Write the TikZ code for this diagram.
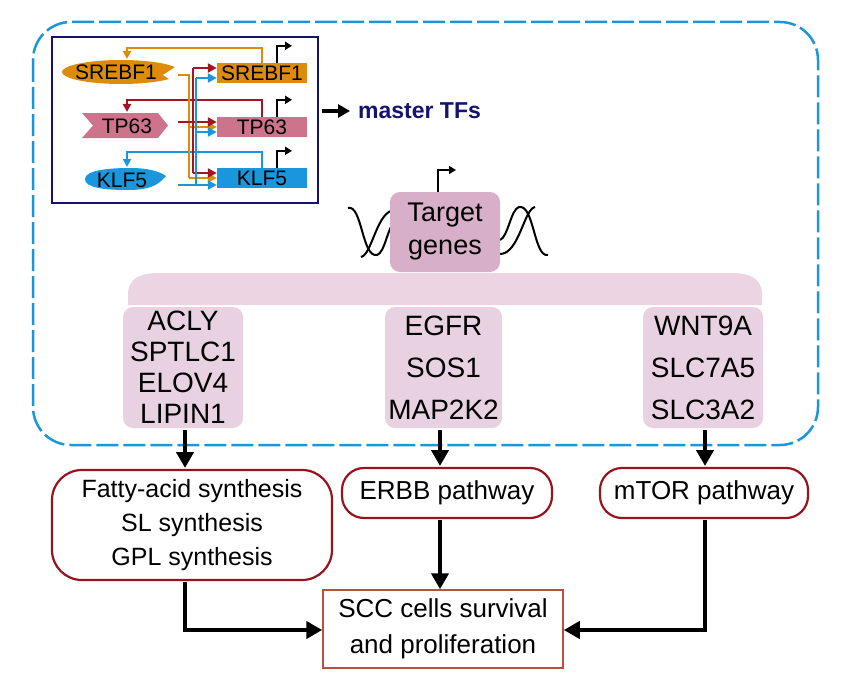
\documentclass[tikz,border=0pt]{standalone}
\usepackage{fontspec}
\setmainfont{Liberation Sans}
\usetikzlibrary{arrows.meta}
\definecolor{dblue}{RGB}{25,150,220}
\definecolor{navy}{RGB}{20,20,110}
\definecolor{orn}{RGB}{220,140,10}
\definecolor{drd}{RGB}{165,20,35}
\definecolor{pnk}{RGB}{205,115,140}
\definecolor{tgt}{RGB}{215,175,200}
\definecolor{gbox}{RGB}{232,210,225}
\definecolor{bar}{RGB}{236,212,226}
\definecolor{pbord}{RGB}{150,20,30}
\definecolor{sbord}{RGB}{185,80,60}
\tikzset{
 big/.style={line width=4pt,-{Triangle[length=16pt,width=17pt]}},
 thin/.style={line width=2.2pt,-{Triangle[length=9pt,width=9pt]}},
 fb/.style={line width=2.2pt,-{Triangle[length=8pt,width=8pt]}},
 prom/.style={line width=2pt,-{Triangle[length=7pt,width=8pt]}},
 gene/.style={fill=gbox,rounded corners=10pt,inner sep=0pt,align=center,font=\fontsize{28}{31}\selectfont},
 path/.style={draw=pbord,line width=2.2pt,align=center,font=\fontsize{25}{34}\selectfont,inner sep=0pt},
 tx/.style={font=\fontsize{21}{21}\selectfont,inner sep=0pt}
}
\begin{document}
\begin{tikzpicture}[x=1pt,y=-1pt]
\useasboundingbox (0,0) rectangle (850,690);
% outer dashed border
\draw[dblue,line width=2.5pt,dash pattern=on 22pt off 5pt,rounded corners=38pt] (33,22) rectangle (818,445);
% inset box
\node[draw=navy,line width=2.5pt,minimum width=266pt,minimum height=166pt,inner sep=0pt] (inset) at (185,120) {};
% master TFs
\node[font=\bfseries\fontsize{23}{23}\selectfont,text=navy,anchor=west,inner sep=0pt] (mtf) at (358,111) {master TFs};
\draw[line width=3pt,-{Triangle[length=12pt,width=13pt]}] (inset.east |- mtf) ++(3,0) coordinate (mstart) -- ([xshift=-8pt]mtf.west);
% protein shapes
\fill[orn] (121,72) ellipse (59 and 12);
\fill[white] (163,75) -- (183,62) -- (183,88) -- cycle;
\node[tx] (sp) at (116,72) {SREBF1};
\fill[pnk] (82,113) -- (158,113) -- (168,125.5) -- (158,138) -- (82,138) -- (93,125.5) -- cycle;
\node[tx] (tp) at (127,126) {TP63};
\fill[dblue] (85,179) .. controls (85,170) and (110,168) .. (130,168) .. controls (150,168) and (160,172) .. (166,176) .. controls (160,182) and (155,190) .. (128,190) .. controls (105,190) and (85,188) .. (85,179) -- cycle;
\node[tx] (kp) at (122,180) {KLF5};
% gene boxes
\node[fill=orn,minimum width=90pt,minimum height=20pt,inner sep=0pt] (sg) at (262,73) {};
\node[tx] at (sg) {SREBF1};
\node[fill=pnk,minimum width=90pt,minimum height=20pt,inner sep=0pt] (tg) at (262,127) {};
\node[tx] at (tg) {TP63};
\node[fill=dblue,minimum width=90pt,minimum height=20pt,inner sep=0pt] (kg) at (262,178) {};
\node[tx] at (kg) {KLF5};
% promoter arrows
\foreach \g in {sg,tg,kg}{\draw[prom] ([xshift=15pt]\g.north) -- ++(0,-17) -- ++(15,0);}
% feedback loops
\draw[fb,orn] (sg.north) -- (262,48) -- (127,48) -- (127,59);
\draw[fb,drd] (tg.north) -- (262,100) -- (127,100) -- (127,112);
\draw[fb,dblue] (kg.north) -- (262,152) -- (127,152) -- (127,167);
% regulatory trunks
\draw[orn,line width=2.2pt] (178,75) -- (189,75) -- (189,178);
\draw[orn,thin] (189,127) -- (tg.west);
\draw[orn,thin] (189,178) -- (kg.west);
\draw[drd,line width=2.2pt] (193,68) -- (193,173);
\draw[drd,thin] (193,68) -- (sg.west |- 0,68);
\draw[drd,thin] (178,122) -- (tg.west |- 0,122);
\draw[drd,thin] (193,173) -- (kg.west |- 0,173);
\draw[dblue,line width=2.2pt] (196,78) -- (196,185);
\draw[dblue,thin] (196,78) -- (sg.west |- 0,78);
\draw[dblue,thin] (196,132) -- (tg.west |- 0,132);
\draw[dblue,thin] (178,185) -- (kg.west |- 0,185);
% DNA
\draw[line width=2pt] (348,208) .. controls (362,204) and (362,258) .. (377,255) .. controls (385,253) and (388,225) .. (395,222);
\draw[line width=2pt] (361,257) .. controls (372,255) and (377,210) .. (395,210);
\draw[line width=2pt] (548,255) .. controls (534,258) and (534,204) .. (519,207) .. controls (511,209) and (508,237) .. (500,240);
\draw[line width=2pt] (535,207) .. controls (524,209) and (519,254) .. (500,254);
% target genes
\node[fill=tgt,rounded corners=10pt,minimum width=110pt,minimum height=80pt,inner sep=0pt,align=center,font=\fontsize{27}{33}\selectfont] (tgn) at (445,232) {Target\\genes};
\draw[prom] (tgn.north -| 438,0) -- (438,170) -- (456,170);
% bar
\fill[bar] (128,305) -- (128,295) .. controls (128,278) and (140,273) .. (160,273) -- (730,273) .. controls (750,273) and (762,278) .. (762,295) -- (762,305) -- cycle;
% gene boxes
\node[gene,minimum width=120pt,minimum height=121pt] (g1) at (183,367.5) {ACLY\\SPTLC1\\ELOV4\\LIPIN1};
\node[gene,minimum width=117pt,minimum height=121pt,font=\fontsize{28}{42}\selectfont] (g2) at (443.5,367.5) {EGFR\\SOS1\\MAP2K2};
\node[gene,minimum width=120pt,minimum height=121pt,font=\fontsize{28}{42}\selectfont] (g3) at (703,367.5) {WNT9A\\SLC7A5\\SLC3A2};
% pathways
\node[path,rounded corners=30pt,minimum width=280pt,minimum height=110pt] (p1) at (192,525) {Fatty-acid synthesis\\SL synthesis\\GPL synthesis};
\node[path,rounded corners=22pt,minimum width=210pt,minimum height=50pt,font=\fontsize{26}{30}\selectfont] (p2) at (447,493) {ERBB pathway};
\node[path,rounded corners=22pt,minimum width=208pt,minimum height=50pt,font=\fontsize{26}{30}\selectfont] (p3) at (704,493) {mTOR pathway};
\node[draw=sbord,line width=1.5pt,minimum width=240pt,minimum height=78pt,inner sep=0pt,align=center,font=\fontsize{26}{36}\selectfont] (scc) at (443,629) {SCC cells survival\\and proliferation};
% big arrows
\draw[big] (185,430) -- (185,468);
\draw[big] (440,430) -- (440,466);
\draw[big] (705,430) -- (705,466);
\draw[big] (185,582) -- (185,630) -- (scc.west |- 0,630);
\draw[big] (440,520) -- (scc.north -| 440,0);
\draw[big] (705,520) -- (705,630) -- (scc.east |- 0,630);
\end{tikzpicture}
\end{document}
